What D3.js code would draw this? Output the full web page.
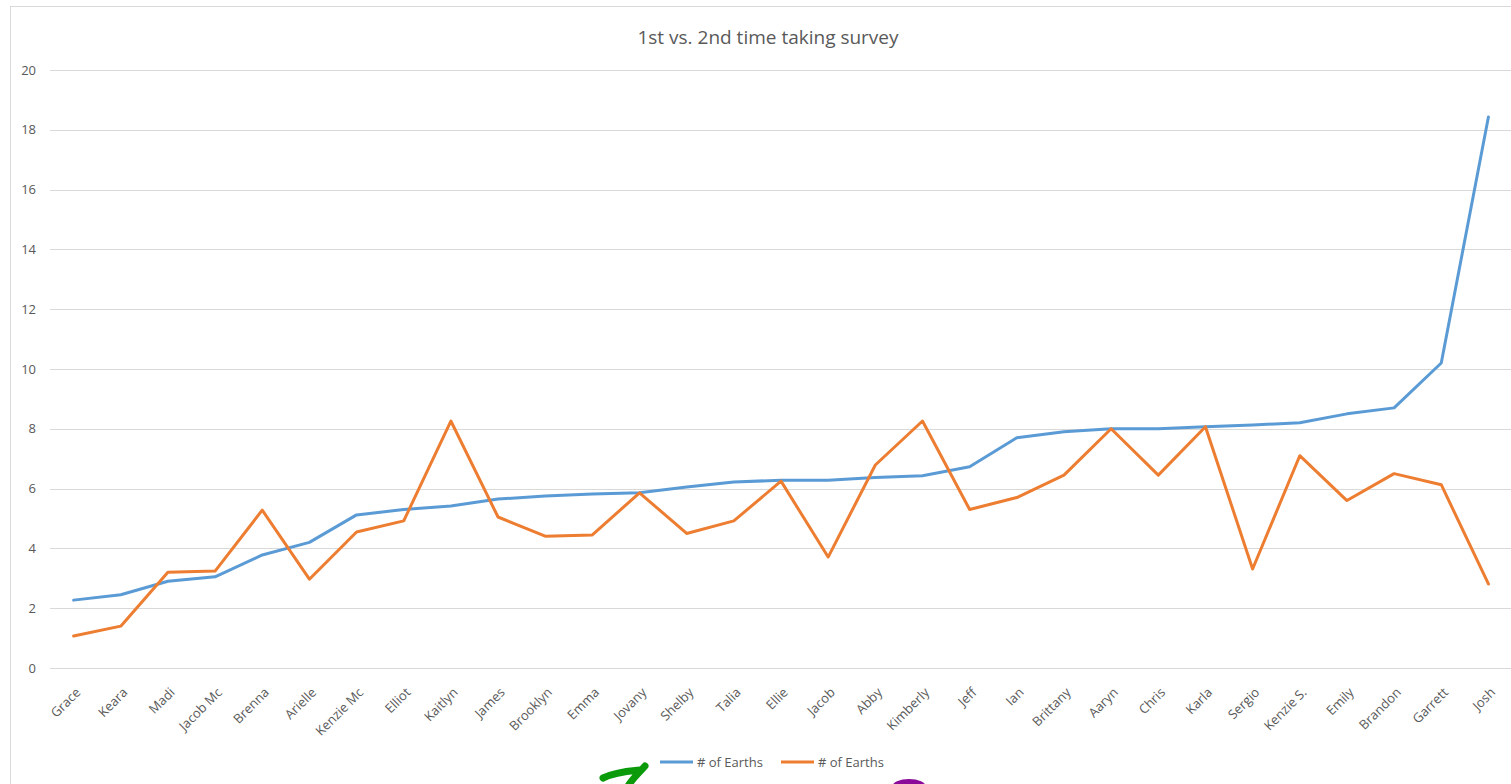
<!DOCTYPE html>
<meta charset="utf-8">
<style>
    body { margin: 0; background: #fff; }
    svg, svg text { font-family: "Open Sans", "Liberation Sans", sans-serif; }
    .grid line { stroke: #d9d9d9; stroke-width: 1; }
    .tick text { fill: #595959; }
    .line { fill: none; stroke-width: 3; stroke-linejoin: round; stroke-linecap: round; }
</style>
<body></body>
<script src="https://cdn.jsdelivr.net/npm/d3@7"></script>
<script>
    // categories (x axis)
    var names = ["Grace", "Keara", "Madi", "Jacob Mc", "Brenna", "Arielle", "Kenzie Mc", "Elliot",
        "Kaitlyn", "James", "Brooklyn", "Emma", "Jovany", "Shelby", "Talia", "Ellie", "Jacob", "Abby",
        "Kimberly", "Jeff", "Ian", "Brittany", "Aaryn", "Chris", "Karla", "Sergio", "Kenzie S.",
        "Emily", "Brandon", "Garrett", "Josh"];

    // 1st time
    var first = [2.27, 2.45, 2.9, 3.05, 3.78, 4.2, 5.12, 5.3, 5.42, 5.65, 5.75, 5.82, 5.86, 6.05,
        6.22, 6.28, 6.28, 6.37, 6.43, 6.73, 7.7, 7.9, 8.0, 8.0, 8.07, 8.13, 8.2, 8.5, 8.7, 10.2, 18.43];

    // 2nd time
    var second = [1.07, 1.4, 3.2, 3.24, 5.28, 2.97, 4.55, 4.92, 8.26, 5.05, 4.41, 4.45, 5.86, 4.5,
        4.92, 6.25, 3.71, 6.79, 8.26, 5.3, 5.7, 6.45, 8.0, 6.45, 8.07, 3.31, 7.1, 5.6, 6.5, 6.13, 2.81];

    var yTicks = [0, 2, 4, 6, 8, 10, 12, 14, 16, 18, 20];
    var seriesNames = ["# of Earths", "# of Earths"];
    var colors = ["#5b9bd5", "#ed7d31"];

    var width = 1511, height = 784;
    var margin = {top: 70, right: 0, bottom: 116, left: 50};
    var fontStack = "'Open Sans', 'Liberation Sans', sans-serif";

    var svg = d3.select("body").append("svg")
        .attr("width", width)
        .attr("height", height);

    // chart border
    svg.append("rect")
        .attr("x", 10.5).attr("y", 6.5)
        .attr("width", 1520).attr("height", 800)
        .attr("fill", "none")
        .attr("stroke", "#d9d9d9");

    var xScale = d3.scalePoint()
        .domain(names)
        .range([margin.left, 1512])
        .padding(0.5);

    var yScale = d3.scaleLinear()
        .domain([0, 20])
        .range([height - margin.bottom, margin.top]);

    // gridlines
    svg.append("g")
        .attr("class", "grid")
        .selectAll("line")
        .data(yTicks)
        .enter().append("line")
        .attr("x1", margin.left)
        .attr("x2", width)
        .attr("y1", function(d) { return Math.round(yScale(d)) + 0.5; })
        .attr("y2", function(d) { return Math.round(yScale(d)) + 0.5; });

    // y axis labels
    var yAxis = svg.append("g")
        .attr("transform", "translate(" + margin.left + ",0)")
        .call(d3.axisLeft(yScale).tickValues(yTicks).tickSize(0).tickPadding(14))
        .attr("font-family", fontStack)
        .attr("font-size", 13);
    yAxis.select(".domain").remove();

    // x axis labels
    var xAxis = svg.append("g")
        .attr("transform", "translate(0," + (height - margin.bottom) + ")")
        .call(d3.axisBottom(xScale).tickSize(0))
        .attr("font-family", fontStack)
        .attr("font-size", 13);
    xAxis.select(".domain").remove();
    xAxis.selectAll("text")
        .style("text-anchor", "end")
        .attr("y", 0)
        .attr("dy", "0.35em")
        .attr("transform", "translate(4,22) rotate(-45)");

    // lines
    var line = d3.line()
        .x(function(d, i) { return xScale(names[i]); })
        .y(function(d) { return yScale(d); });

    [first, second].forEach(function(s, k) {
        svg.append("path")
            .datum(s)
            .attr("class", "line")
            .attr("stroke", colors[k])
            .attr("d", line);
    });

    // title
    svg.append("text")
        .attr("x", 768)
        .attr("y", 44)
        .attr("text-anchor", "middle")
        .style("font-size", "19px")
        .style("fill", "#595959")
        .text("1st vs. 2nd time taking survey");

    // legend
    var legend = svg.append("g")
        .attr("transform", "translate(660,762)");
    var lx = [0, 121];
    seriesNames.forEach(function(n, k) {
        var g = legend.append("g").attr("transform", "translate(" + lx[k] + ",0)");
        g.append("line")
            .attr("x1", 0).attr("x2", 33)
            .attr("stroke", colors[k])
            .attr("stroke-width", 3);
        g.append("text")
            .attr("x", 37)
            .attr("dy", "0.35em")
            .style("font-size", "13px")
            .style("fill", "#595959")
            .text(n);
    });

    // hand-drawn marks at the bottom
    svg.append("path")
        .attr("d", "M603,778 C615,772 630,771 640,770 M645,766 C640,772 633,778 628,786")
        .attr("fill", "none")
        .attr("stroke", "#0a9a0a")
        .attr("stroke-width", 7)
        .attr("stroke-linecap", "round");
    svg.append("ellipse")
        .attr("cx", 909).attr("cy", 787)
        .attr("rx", 17).attr("ry", 8)
        .attr("fill", "#8b0a9a");
</script>
